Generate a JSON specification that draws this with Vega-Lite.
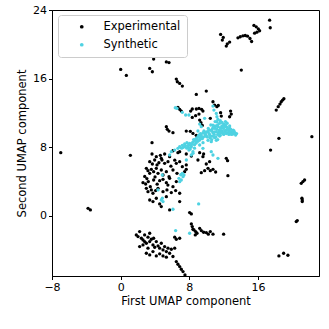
{
  "$schema": "https://vega.github.io/schema/vega-lite/v6.json",
  "width": 267,
  "height": 266,
  "autosize": {"type": "none"},
  "padding": {"left": 52, "top": 10, "right": 10, "bottom": 53},
  "background": "white",
  "config": {
    "view": {"stroke": "#000000", "strokeWidth": 1},
    "font": "DejaVu Sans"
  },
  "data": {
    "values": [
      {"set":"Experimental","x":17.35,"y":22.82},{"set":"Experimental","x":17.42,"y":21.93},{"set":"Experimental","x":11.64,"y":21.15},{"set":"Experimental","x":11.95,"y":20.8},{"set":"Experimental","x":11.84,"y":20.49},{"set":"Experimental","x":12.42,"y":20.06},{"set":"Experimental","x":12.69,"y":20.26},{"set":"Experimental","x":12.3,"y":19.79},{"set":"Experimental","x":13.66,"y":20.76},{"set":"Experimental","x":13.93,"y":20.88},{"set":"Experimental","x":14.24,"y":20.99},{"set":"Experimental","x":14.51,"y":21.03},{"set":"Experimental","x":14.78,"y":20.95},{"set":"Experimental","x":15.06,"y":20.68},{"set":"Experimental","x":15.25,"y":20.33},{"set":"Experimental","x":15.52,"y":22.2},{"set":"Experimental","x":15.79,"y":22.04},{"set":"Experimental","x":16.03,"y":21.81},{"set":"Experimental","x":16.18,"y":21.58},{"set":"Experimental","x":15.87,"y":21.42},{"set":"Experimental","x":15.6,"y":21.3},{"set":"Experimental","x":14.05,"y":17.0},
      {"set":"Experimental","x":0.0,"y":17.07},{"set":"Experimental","x":0.66,"y":16.38},{"set":"Experimental","x":3.84,"y":18.28},{"set":"Experimental","x":3.38,"y":17.19},{"set":"Experimental","x":3.69,"y":16.8},{"set":"Experimental","x":5.32,"y":17.95},{"set":"Experimental","x":5.63,"y":17.87},{"set":"Experimental","x":6.48,"y":15.95},{"set":"Experimental","x":6.6,"y":15.64},{"set":"Experimental","x":6.87,"y":15.44},{"set":"Experimental","x":7.18,"y":15.13},{"set":"Experimental","x":8.81,"y":14.16},{"set":"Experimental","x":9.97,"y":14.55},{"set":"Experimental","x":-6.98,"y":7.37},{"set":"Experimental","x":1.13,"y":7.06},{"set":"Experimental","x":-3.8,"y":0.89},{"set":"Experimental","x":-3.53,"y":0.7},
      {"set":"Experimental","x":18.12,"y":12.34},{"set":"Experimental","x":18.35,"y":12.73},{"set":"Experimental","x":18.55,"y":13.04},{"set":"Experimental","x":18.7,"y":13.31},{"set":"Experimental","x":18.86,"y":13.5},{"set":"Experimental","x":19.01,"y":13.66},{"set":"Experimental","x":22.27,"y":9.24},{"set":"Experimental","x":18.43,"y":9.04},{"set":"Experimental","x":17.46,"y":7.68},{"set":"Experimental","x":21.03,"y":3.8},{"set":"Experimental","x":21.23,"y":4.0},{"set":"Experimental","x":21.42,"y":4.19},{"set":"Experimental","x":21.11,"y":2.06},{"set":"Experimental","x":21.15,"y":1.86},{"set":"Experimental","x":21.15,"y":1.67},{"set":"Experimental","x":20.45,"y":-0.66},{"set":"Experimental","x":20.57,"y":-0.54},{"set":"Experimental","x":18.43,"y":-4.66},{"set":"Experimental","x":18.98,"y":-4.35},{"set":"Experimental","x":19.48,"y":-4.58},
      {"set":"Experimental","x":3.65,"y":7.22},{"set":"Experimental","x":4.15,"y":6.91},{"set":"Experimental","x":4.62,"y":7.06},{"set":"Experimental","x":5.12,"y":7.22},{"set":"Experimental","x":5.7,"y":6.91},{"set":"Experimental","x":6.09,"y":7.6},{"set":"Experimental","x":6.67,"y":7.37},{"set":"Experimental","x":3.38,"y":6.32},{"set":"Experimental","x":3.69,"y":6.05},{"set":"Experimental","x":3.96,"y":6.52},{"set":"Experimental","x":4.23,"y":5.94},{"set":"Experimental","x":4.81,"y":6.52},{"set":"Experimental","x":5.12,"y":6.13},{"set":"Experimental","x":5.51,"y":6.32},{"set":"Experimental","x":6.48,"y":6.13},{"set":"Experimental","x":6.87,"y":6.32},{"set":"Experimental","x":7.18,"y":5.74},{"set":"Experimental","x":7.64,"y":5.94},{"set":"Experimental","x":2.99,"y":5.55},{"set":"Experimental","x":3.18,"y":5.28},{"set":"Experimental","x":3.38,"y":4.97},{"set":"Experimental","x":3.57,"y":5.43},{"set":"Experimental","x":3.84,"y":5.16},{"set":"Experimental","x":4.15,"y":5.55},{"set":"Experimental","x":4.35,"y":4.97},{"set":"Experimental","x":4.73,"y":5.35},{"set":"Experimental","x":4.93,"y":4.77},{"set":"Experimental","x":5.32,"y":5.16},{"set":"Experimental","x":5.63,"y":4.58},{"set":"Experimental","x":6.09,"y":5.35},{"set":"Experimental","x":6.56,"y":4.97},{"set":"Experimental","x":7.45,"y":5.16},{"set":"Experimental","x":7.64,"y":5.43},{"set":"Experimental","x":2.6,"y":3.88},{"set":"Experimental","x":2.91,"y":3.72},{"set":"Experimental","x":3.22,"y":4.0},{"set":"Experimental","x":3.45,"y":3.41},{"set":"Experimental","x":3.84,"y":4.19},{"set":"Experimental","x":4.54,"y":4.11},{"set":"Experimental","x":4.93,"y":4.27},{"set":"Experimental","x":5.32,"y":3.88},{"set":"Experimental","x":5.7,"y":4.38},{"set":"Experimental","x":6.09,"y":3.41},{"set":"Experimental","x":6.48,"y":4.0},{"set":"Experimental","x":2.99,"y":3.22},{"set":"Experimental","x":3.18,"y":2.83},{"set":"Experimental","x":3.57,"y":3.03},{"set":"Experimental","x":3.76,"y":2.64},{"set":"Experimental","x":4.07,"y":2.95},{"set":"Experimental","x":4.35,"y":3.22},{"set":"Experimental","x":4.93,"y":2.83},{"set":"Experimental","x":5.39,"y":3.03},{"set":"Experimental","x":5.9,"y":2.72},{"set":"Experimental","x":6.4,"y":2.95},{"set":"Experimental","x":6.87,"y":2.64},{"set":"Experimental","x":3.38,"y":1.86},{"set":"Experimental","x":3.76,"y":1.67},{"set":"Experimental","x":4.15,"y":2.06},{"set":"Experimental","x":4.54,"y":1.4},{"set":"Experimental","x":4.73,"y":1.09},{"set":"Experimental","x":5.32,"y":2.25},{"set":"Experimental","x":5.7,"y":0.7},{"set":"Experimental","x":6.87,"y":1.67},{"set":"Experimental","x":8.03,"y":0.39},{"set":"Experimental","x":8.23,"y":0.23},{"set":"Experimental","x":3.65,"y":8.54},{"set":"Experimental","x":4.73,"y":6.71},{"set":"Experimental","x":6.87,"y":7.49},
      {"set":"Experimental","x":2.8,"y":4.6},{"set":"Experimental","x":3.05,"y":4.35},{"set":"Experimental","x":4.0,"y":4.55},{"set":"Experimental","x":4.45,"y":6.2},{"set":"Experimental","x":5.85,"y":5.8},{"set":"Experimental","x":6.3,"y":6.5},{"set":"Experimental","x":5.5,"y":3.6},{"set":"Experimental","x":4.25,"y":3.7},
      {"set":"Experimental","x":9.2,"y":7.37},{"set":"Experimental","x":9.66,"y":7.22},{"set":"Experimental","x":9.58,"y":6.91},{"set":"Experimental","x":7.64,"y":7.22},{"set":"Experimental","x":8.23,"y":6.98},{"set":"Experimental","x":9.0,"y":6.52},{"set":"Experimental","x":9.39,"y":5.04},{"set":"Experimental","x":9.78,"y":5.28},{"set":"Experimental","x":10.17,"y":5.55},{"set":"Experimental","x":10.44,"y":5.28},{"set":"Experimental","x":10.75,"y":5.43},{"set":"Experimental","x":11.06,"y":5.12},{"set":"Experimental","x":12.3,"y":6.71},{"set":"Experimental","x":12.45,"y":6.44},{"set":"Experimental","x":12.49,"y":4.69},{"set":"Experimental","x":10.36,"y":6.32},{"set":"Experimental","x":9.97,"y":6.05},
      {"set":"Experimental","x":5.32,"y":10.4},{"set":"Experimental","x":5.43,"y":10.09},{"set":"Experimental","x":5.63,"y":9.89},{"set":"Experimental","x":6.09,"y":9.7},{"set":"Experimental","x":6.67,"y":12.65},{"set":"Experimental","x":6.87,"y":12.42},{"set":"Experimental","x":7.06,"y":12.22},{"set":"Experimental","x":8.15,"y":12.22},{"set":"Experimental","x":8.34,"y":12.46},{"set":"Experimental","x":8.81,"y":12.46},{"set":"Experimental","x":9.12,"y":12.53},{"set":"Experimental","x":9.43,"y":12.42},{"set":"Experimental","x":9.58,"y":12.22},{"set":"Experimental","x":9.12,"y":11.87},{"set":"Experimental","x":8.73,"y":11.68},{"set":"Experimental","x":8.34,"y":11.48},{"set":"Experimental","x":10.75,"y":13.31},{"set":"Experimental","x":10.94,"y":12.92},{"set":"Experimental","x":11.21,"y":12.73},{"set":"Experimental","x":11.37,"y":12.88},{"set":"Experimental","x":12.8,"y":12.22},{"set":"Experimental","x":12.88,"y":11.87},{"set":"Experimental","x":12.69,"y":11.56},{"set":"Experimental","x":7.64,"y":9.89},{"set":"Experimental","x":8.11,"y":9.86},{"set":"Experimental","x":8.42,"y":9.62},{"set":"Experimental","x":8.81,"y":9.39},{"set":"Experimental","x":9.2,"y":11.17},{"set":"Experimental","x":9.35,"y":10.86},{"set":"Experimental","x":9.51,"y":10.55},{"set":"Experimental","x":11.64,"y":12.03},{"set":"Experimental","x":11.72,"y":11.64},{"set":"Experimental","x":10.44,"y":11.37},
      {"set":"Experimental","x":8.23,"y":-0.93},{"set":"Experimental","x":8.34,"y":-1.24},{"set":"Experimental","x":8.54,"y":-1.63},{"set":"Experimental","x":8.73,"y":-1.82},{"set":"Experimental","x":8.89,"y":-2.02},{"set":"Experimental","x":8.69,"y":-2.21},{"set":"Experimental","x":8.42,"y":-1.55},{"set":"Experimental","x":9.2,"y":-1.44},{"set":"Experimental","x":9.39,"y":-1.71},{"set":"Experimental","x":9.66,"y":-1.9},{"set":"Experimental","x":9.97,"y":-1.94},{"set":"Experimental","x":10.21,"y":-2.13},{"set":"Experimental","x":10.44,"y":-1.82},{"set":"Experimental","x":10.75,"y":-2.13},{"set":"Experimental","x":11.99,"y":-2.13},{"set":"Experimental","x":6.29,"y":-2.48},{"set":"Experimental","x":6.48,"y":-2.72},{"set":"Experimental","x":6.87,"y":-2.6},
      {"set":"Experimental","x":1.82,"y":-2.21},{"set":"Experimental","x":2.02,"y":-2.41},{"set":"Experimental","x":2.21,"y":-1.82},{"set":"Experimental","x":2.41,"y":-2.6},{"set":"Experimental","x":2.6,"y":-2.79},{"set":"Experimental","x":2.79,"y":-2.99},{"set":"Experimental","x":2.99,"y":-3.18},{"set":"Experimental","x":3.18,"y":-2.48},{"set":"Experimental","x":3.38,"y":-2.02},{"set":"Experimental","x":3.57,"y":-2.72},{"set":"Experimental","x":3.76,"y":-3.38},{"set":"Experimental","x":3.96,"y":-3.65},{"set":"Experimental","x":4.15,"y":-2.99},{"set":"Experimental","x":4.35,"y":-3.49},{"set":"Experimental","x":4.54,"y":-3.76},{"set":"Experimental","x":4.73,"y":-3.18},{"set":"Experimental","x":4.93,"y":-3.96},{"set":"Experimental","x":5.12,"y":-3.57},{"set":"Experimental","x":5.32,"y":-4.15},{"set":"Experimental","x":5.51,"y":-3.76},{"set":"Experimental","x":5.7,"y":-4.35},{"set":"Experimental","x":5.9,"y":-3.88},{"set":"Experimental","x":6.09,"y":-4.73},{"set":"Experimental","x":6.29,"y":-3.76},{"set":"Experimental","x":2.99,"y":-4.35},{"set":"Experimental","x":3.38,"y":-4.54},{"set":"Experimental","x":3.76,"y":-4.15},{"set":"Experimental","x":4.15,"y":-4.66},{"set":"Experimental","x":4.54,"y":-4.42},{"set":"Experimental","x":4.93,"y":-4.66},{"set":"Experimental","x":5.32,"y":-4.81},{"set":"Experimental","x":2.21,"y":-3.57},{"set":"Experimental","x":2.6,"y":-3.38},{"set":"Experimental","x":3.18,"y":-3.76},{"set":"Experimental","x":2.79,"y":-2.21},{"set":"Experimental","x":3.38,"y":-2.99},{"set":"Experimental","x":3.84,"y":-2.6},{"set":"Experimental","x":6.48,"y":-5.32},{"set":"Experimental","x":6.67,"y":-5.63},{"set":"Experimental","x":6.87,"y":-5.9},{"set":"Experimental","x":7.06,"y":-6.21},{"set":"Experimental","x":7.26,"y":-6.48},{"set":"Experimental","x":7.49,"y":-6.87},
      {"set":"Synthetic","x":6.36,"y":12.61},{"set":"Synthetic","x":6.56,"y":12.53},{"set":"Synthetic","x":7.18,"y":12.07},{"set":"Synthetic","x":7.57,"y":11.76},{"set":"Synthetic","x":7.95,"y":11.76},{"set":"Synthetic","x":10.75,"y":12.8},{"set":"Synthetic","x":10.86,"y":12.34},{"set":"Synthetic","x":11.14,"y":11.95},{"set":"Synthetic","x":11.21,"y":11.56},{"set":"Synthetic","x":11.33,"y":11.25},{"set":"Synthetic","x":11.21,"y":10.98},{"set":"Synthetic","x":9.78,"y":11.37},{"set":"Synthetic","x":9.2,"y":10.71},{"set":"Synthetic","x":9.39,"y":10.4},
      {"set":"Synthetic","x":6.87,"y":8.07},{"set":"Synthetic","x":7.18,"y":8.23},{"set":"Synthetic","x":7.45,"y":8.38},{"set":"Synthetic","x":7.72,"y":8.54},{"set":"Synthetic","x":8.03,"y":8.46},{"set":"Synthetic","x":8.23,"y":8.07},{"set":"Synthetic","x":7.95,"y":7.68},{"set":"Synthetic","x":8.42,"y":7.49},{"set":"Synthetic","x":8.61,"y":8.85},{"set":"Synthetic","x":8.81,"y":9.04},{"set":"Synthetic","x":9.0,"y":9.23},{"set":"Synthetic","x":9.2,"y":8.85},{"set":"Synthetic","x":9.39,"y":9.43},{"set":"Synthetic","x":9.59,"y":9.16},{"set":"Synthetic","x":9.78,"y":9.62},{"set":"Synthetic","x":9.97,"y":9.31},{"set":"Synthetic","x":10.17,"y":9.81},{"set":"Synthetic","x":10.36,"y":9.43},{"set":"Synthetic","x":10.55,"y":10.01},{"set":"Synthetic","x":10.75,"y":9.7},{"set":"Synthetic","x":10.94,"y":10.21},{"set":"Synthetic","x":11.14,"y":9.82},{"set":"Synthetic","x":11.33,"y":10.4},{"set":"Synthetic","x":11.52,"y":9.93},{"set":"Synthetic","x":11.72,"y":10.21},{"set":"Synthetic","x":11.91,"y":9.62},{"set":"Synthetic","x":12.11,"y":10.48},{"set":"Synthetic","x":12.3,"y":10.01},{"set":"Synthetic","x":12.5,"y":9.7},{"set":"Synthetic","x":12.69,"y":10.21},{"set":"Synthetic","x":12.88,"y":9.82},{"set":"Synthetic","x":13.08,"y":9.54},{"set":"Synthetic","x":13.27,"y":9.62},{"set":"Synthetic","x":13.39,"y":9.43},{"set":"Synthetic","x":11.52,"y":9.31},{"set":"Synthetic","x":10.94,"y":9.12},{"set":"Synthetic","x":10.17,"y":8.81},{"set":"Synthetic","x":9.59,"y":8.54},{"set":"Synthetic","x":9.2,"y":8.27},{"set":"Synthetic","x":10.75,"y":10.59},{"set":"Synthetic","x":11.52,"y":10.79},{"set":"Synthetic","x":11.99,"y":10.71},{"set":"Synthetic","x":12.3,"y":10.4},{"set":"Synthetic","x":12.69,"y":10.48},{"set":"Synthetic","x":13.08,"y":9.82},{"set":"Synthetic","x":11.14,"y":8.81},{"set":"Synthetic","x":10.55,"y":8.65},
      {"set":"Synthetic","x":10.3,"y":9.6},{"set":"Synthetic","x":10.6,"y":9.9},{"set":"Synthetic","x":10.9,"y":9.5},{"set":"Synthetic","x":11.2,"y":10.1},{"set":"Synthetic","x":11.4,"y":9.7},{"set":"Synthetic","x":11.6,"y":10.3},{"set":"Synthetic","x":11.8,"y":9.9},{"set":"Synthetic","x":12.0,"y":10.2},{"set":"Synthetic","x":12.2,"y":9.8},{"set":"Synthetic","x":12.4,"y":10.3},{"set":"Synthetic","x":12.6,"y":9.9},{"set":"Synthetic","x":12.8,"y":10.1},{"set":"Synthetic","x":13.0,"y":9.7},{"set":"Synthetic","x":13.2,"y":9.9},{"set":"Synthetic","x":11.0,"y":10.4},{"set":"Synthetic","x":11.3,"y":10.6},{"set":"Synthetic","x":11.8,"y":10.5},{"set":"Synthetic","x":12.2,"y":10.6},{"set":"Synthetic","x":10.0,"y":9.8},{"set":"Synthetic","x":9.8,"y":9.3},{"set":"Synthetic","x":9.5,"y":9.0},{"set":"Synthetic","x":9.3,"y":9.6},{"set":"Synthetic","x":9.0,"y":8.7},{"set":"Synthetic","x":8.8,"y":8.5},{"set":"Synthetic","x":8.6,"y":8.3},{"set":"Synthetic","x":8.4,"y":8.6},{"set":"Synthetic","x":8.2,"y":8.2},{"set":"Synthetic","x":7.9,"y":8.0},{"set":"Synthetic","x":7.7,"y":7.9},{"set":"Synthetic","x":10.4,"y":9.1},{"set":"Synthetic","x":10.7,"y":9.3},{"set":"Synthetic","x":11.1,"y":9.2},{"set":"Synthetic","x":11.6,"y":9.4},{"set":"Synthetic","x":12.0,"y":9.5},{"set":"Synthetic","x":12.6,"y":9.5},{"set":"Synthetic","x":12.2,"y":11.0},{"set":"Synthetic","x":11.6,"y":11.1},{"set":"Synthetic","x":10.2,"y":10.2},{"set":"Synthetic","x":10.8,"y":10.5},{"set":"Synthetic","x":9.7,"y":9.9},{"set":"Synthetic","x":9.0,"y":9.9},
      {"set":"Synthetic","x":9.9,"y":9.5},{"set":"Synthetic","x":10.1,"y":9.2},{"set":"Synthetic","x":10.3,"y":10.0},{"set":"Synthetic","x":10.5,"y":9.3},{"set":"Synthetic","x":10.7,"y":10.2},{"set":"Synthetic","x":10.9,"y":9.8},{"set":"Synthetic","x":11.1,"y":10.5},{"set":"Synthetic","x":11.3,"y":9.5},{"set":"Synthetic","x":11.5,"y":10.0},{"set":"Synthetic","x":11.7,"y":9.7},{"set":"Synthetic","x":11.9,"y":10.4},{"set":"Synthetic","x":12.1,"y":9.9},{"set":"Synthetic","x":12.3,"y":9.6},{"set":"Synthetic","x":12.5,"y":10.1},{"set":"Synthetic","x":12.7,"y":9.7},{"set":"Synthetic","x":12.9,"y":9.5},{"set":"Synthetic","x":13.1,"y":10.0},{"set":"Synthetic","x":13.3,"y":9.7},{"set":"Synthetic","x":13.5,"y":9.6},{"set":"Synthetic","x":11.8,"y":10.9},{"set":"Synthetic","x":12.4,"y":10.8},{"set":"Synthetic","x":11.0,"y":11.0},{"set":"Synthetic","x":10.5,"y":10.6},{"set":"Synthetic","x":9.6,"y":9.7},{"set":"Synthetic","x":9.4,"y":9.2},{"set":"Synthetic","x":9.1,"y":9.4},{"set":"Synthetic","x":8.9,"y":8.9},{"set":"Synthetic","x":8.7,"y":8.7},{"set":"Synthetic","x":8.5,"y":8.9},{"set":"Synthetic","x":8.3,"y":8.4},{"set":"Synthetic","x":8.0,"y":8.3},{"set":"Synthetic","x":7.8,"y":8.2},{"set":"Synthetic","x":7.5,"y":8.1},{"set":"Synthetic","x":7.3,"y":8.0},{"set":"Synthetic","x":7.1,"y":7.9},{"set":"Synthetic","x":8.1,"y":7.8},{"set":"Synthetic","x":8.6,"y":7.9},{"set":"Synthetic","x":10.6,"y":8.9},{"set":"Synthetic","x":11.3,"y":8.9},{"set":"Synthetic","x":9.2,"y":9.1},
      {"set":"Synthetic","x":8.42,"y":7.3},{"set":"Synthetic","x":8.23,"y":7.1},{"set":"Synthetic","x":10.55,"y":7.49},{"set":"Synthetic","x":10.75,"y":7.1},{"set":"Synthetic","x":11.33,"y":6.71},{"set":"Synthetic","x":9.58,"y":7.88},{"set":"Synthetic","x":7.65,"y":6.52},{"set":"Synthetic","x":5.7,"y":7.1},{"set":"Synthetic","x":5.9,"y":7.49},{"set":"Synthetic","x":6.29,"y":7.68},{"set":"Synthetic","x":6.67,"y":7.88},
      {"set":"Synthetic","x":7.18,"y":4.97},{"set":"Synthetic","x":7.26,"y":4.58},{"set":"Synthetic","x":7.06,"y":4.19},{"set":"Synthetic","x":6.87,"y":3.99},{"set":"Synthetic","x":7.37,"y":4.77},{"set":"Synthetic","x":6.79,"y":4.38},{"set":"Synthetic","x":7.0,"y":4.8},{"set":"Synthetic","x":4.85,"y":2.06},{"set":"Synthetic","x":4.73,"y":1.86},{"set":"Synthetic","x":4.93,"y":1.67},{"set":"Synthetic","x":4.35,"y":3.03},{"set":"Synthetic","x":6.09,"y":0.78},{"set":"Synthetic","x":9.08,"y":1.4},{"set":"Synthetic","x":6.4,"y":-1.71},{"set":"Synthetic","x":8.03,"y":-2.02},{"set":"Synthetic","x":4.85,"y":4.77}
    ]
  },
  "mark": {"type": "circle", "size": 11, "opacity": 1},
  "encoding": {
    "x": {
      "field": "x", "type": "quantitative",
      "scale": {"domain": [-8, 23.1], "nice": false, "zero": false},
      "axis": {"values": [-8, 0, 8, 16], "grid": false, "title": "First UMAP component", "titleFontSize": 11.5, "titleFontWeight": "normal", "titleColor": "#000", "labelFontSize": 11, "labelColor": "#000", "domainColor": "#000", "tickColor": "#000", "tickSize": 3.5, "labelPadding": 2, "titlePadding": 3, "labelFlush": false}
    },
    "y": {
      "field": "y", "type": "quantitative",
      "scale": {"domain": [-7, 24], "nice": false, "zero": false},
      "axis": {"values": [0, 8, 16, 24], "grid": false, "title": "Second UMAP component", "titleFontSize": 11.5, "titleFontWeight": "normal", "titleColor": "#000", "labelFontSize": 11, "labelColor": "#000", "domainColor": "#000", "tickColor": "#000", "tickSize": 3.5, "labelPadding": 2, "titlePadding": 5, "labelFlush": false}
    },
    "color": {
      "field": "set", "type": "nominal",
      "scale": {"domain": ["Experimental", "Synthetic"], "range": ["#000000", "#4fd2e2"]},
      "legend": {"title": null, "orient": "none", "legendX": 6, "legendY": 5, "padding": 6, "strokeColor": "#cccccc", "fillColor": "white", "cornerRadius": 3, "symbolType": "circle", "symbolSize": 14, "symbolOffset": 12, "labelOffset": 16, "labelFontSize": 11.5, "labelColor": "#000", "rowPadding": 5, "symbolStrokeWidth": 0}
    }
  }
}
